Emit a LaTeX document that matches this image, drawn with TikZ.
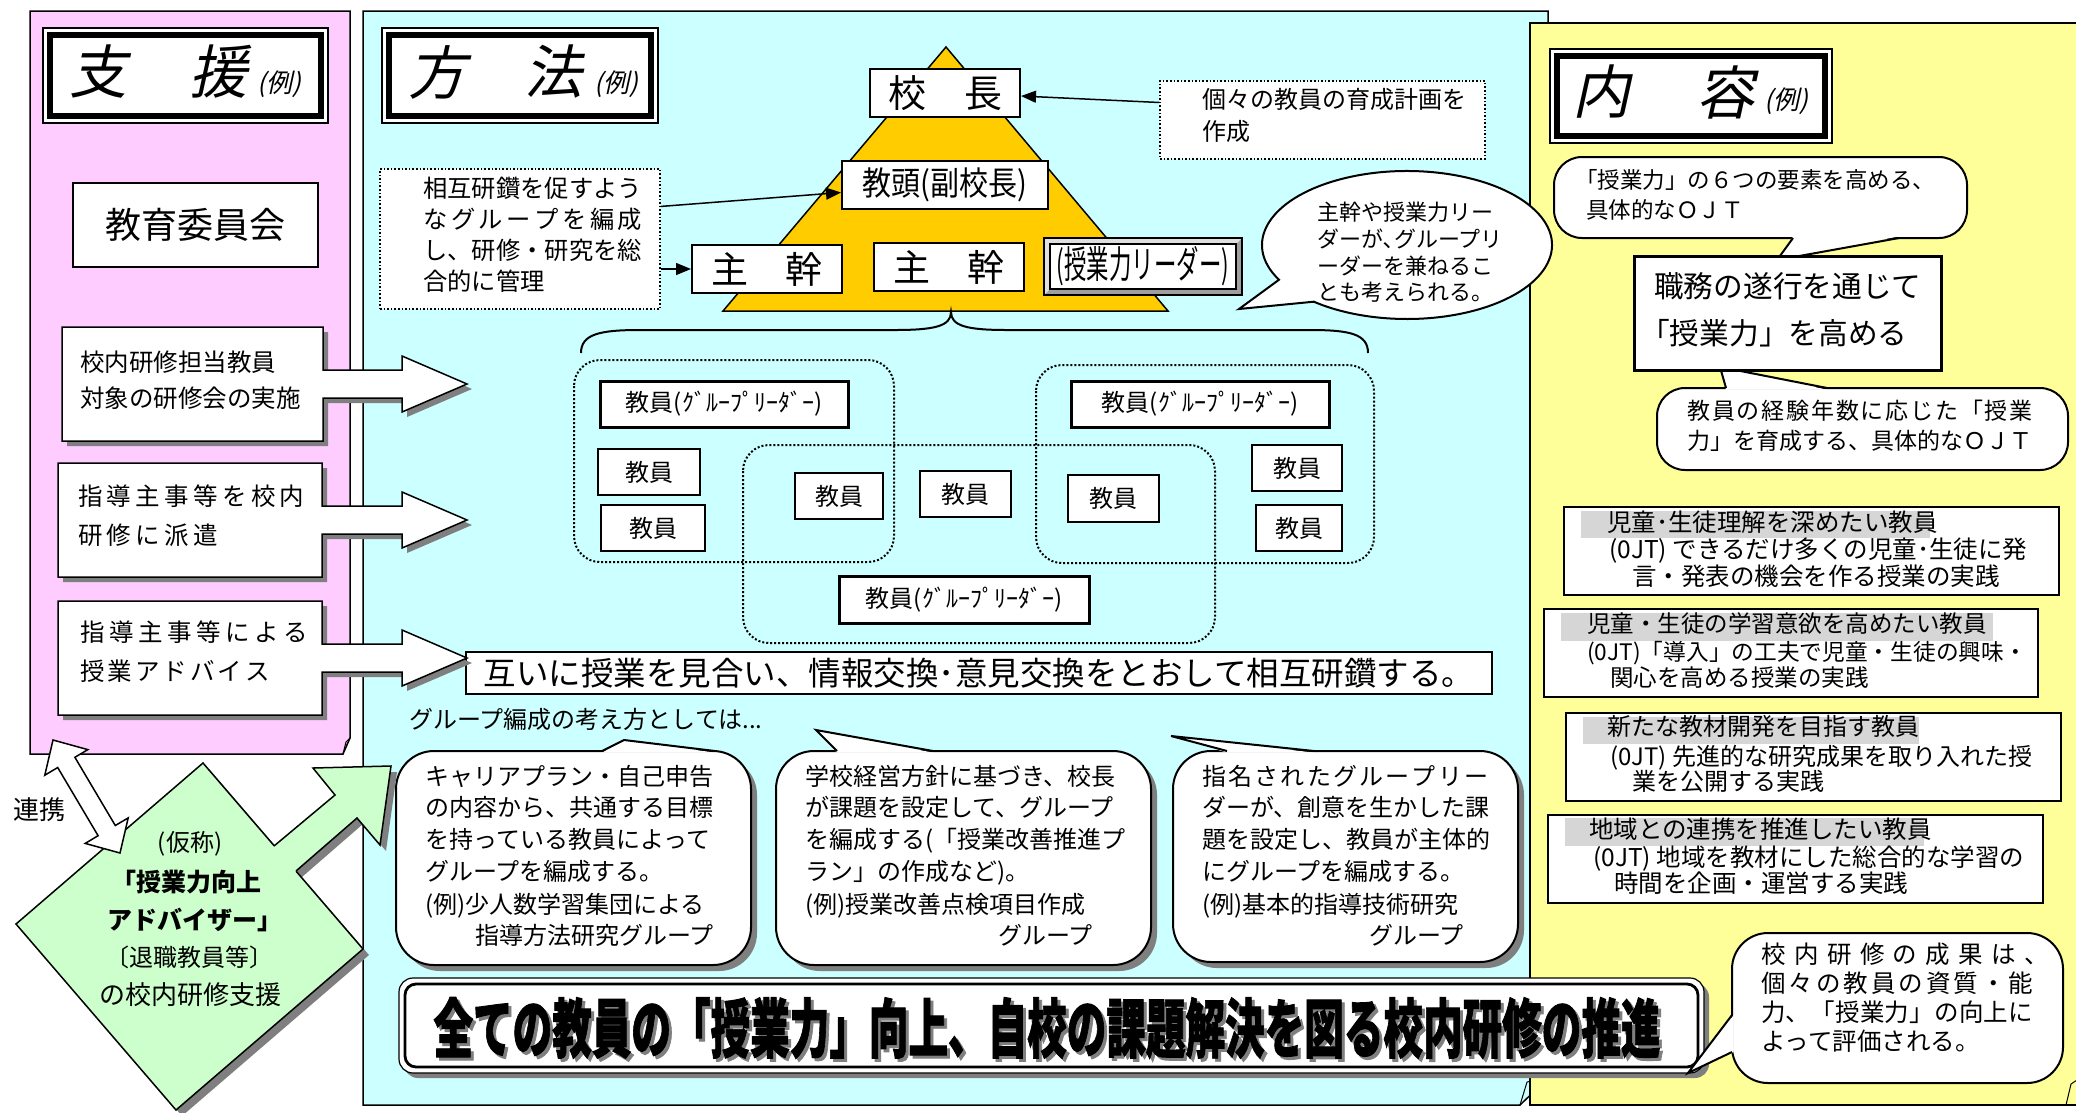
\documentclass[tikz,border=0pt]{standalone}
\usepackage{fontspec}
\usepackage{graphicx}
\setmainfont{Noto Sans CJK JP}
\newfontfamily\jpit{Noto Sans CJK JP}[FakeSlant=0.22]
\newfontfamily\jpheavy{Noto Sans CJK JP}[BoldFeatures={FakeBold=1.5}]
\usetikzlibrary{calc,arrows.meta}
\definecolor{pinkbg}{HTML}{FFCCFF}
\definecolor{bluebg}{HTML}{CCFFFF}
\definecolor{yelbg}{HTML}{FFFF99}
\definecolor{gold}{HTML}{FFCC00}
\definecolor{greenbg}{HTML}{CCFFCC}
\definecolor{hl}{HTML}{D6D6D6}
\definecolor{shadowc}{HTML}{7F7F7F}
\makeatletter
\newcommand\jline[2]{\makebox[#1][s]{\@tfor\jl@c:=#2\do{\jl@c\hfill}\unskip}}
\newcommand\sprd[2]{\@tfor\jl@c:=#2\do{\jl@c\hskip#1\relax}\unskip}
\makeatother
\newcommand\fs[1]{\fontsize{#1pt}{#1pt}\selectfont}
\newcommand\TL[4]{\node[anchor=base west, inner sep=0pt, font=#1] (#2) at (#3) {#4};}
\newcommand\tframe[4]{\draw[line width=1.2pt, fill=white] (#1,#2) rectangle (#3,#4);
  \draw[line width=6.5pt] ({#1+7},{#2+7}) rectangle ({#3-7},{#4-7});}
\newcommand\abox[5]{%
  \fill[shadowc, shift={(5,5)}] (#1,#2) -- (#3,#2) -- (#3,{#5-14}) -- (402,{#5-14}) -- (402,{#5-28}) -- (467,#5) -- (402,{#5+28}) -- (402,{#5+14}) -- (#3,{#5+14}) -- (#3,#4) -- (#1,#4) -- cycle;
  \draw[line width=1.5pt, fill=white] (#1,#2) -- (#3,#2) -- (#3,{#5-14}) -- (402,{#5-14}) -- (402,{#5-28}) -- (467,#5) -- (402,{#5+28}) -- (402,{#5+14}) -- (#3,{#5+14}) -- (#3,#4) -- (#1,#4) -- cycle;}
\newcommand\bubble[8]{%
  \fill[shadowc, rounded corners=38pt] ({#1+6},{#2+6}) rectangle ({#3+6},{#4+6});
  \draw[line width=2pt, fill=white, rounded corners=38pt] (#1,#2) rectangle (#3,#4);
  \fill[white] (#5,{#2+1.6}) -- (#7,#8) -- (#6,{#2+1.6}) -- cycle;
  \draw[line width=2pt] (#5,#2) -- (#7,#8) -- (#6,#2);}
\tikzset{
  pbox/.style={draw, line width=2pt, fill=white, inner sep=0pt},
  dotbox/.style={draw, line width=1.6pt, dotted, fill=white, inner sep=0pt},
  grp/.style={line width=2pt, dotted, rounded corners=26pt},
  glbox/.style={draw, line width=3pt, fill=white, inner sep=0pt, font=\fs{24}},
  tbox/.style={draw, line width=2pt, fill=white, inner sep=0pt, font=\fs{24}},
  rbox/.style={draw, line width=2.5pt, fill=white, inner sep=0pt},
  arr/.style={-{Triangle[length=15pt,width=12pt]}, line width=1.5pt},
  ctr/.style={anchor=base, inner sep=0pt}
}
\begin{document}
\begin{tikzpicture}[x=1pt,y=-1pt]
\useasboundingbox (0,0) rectangle (2076,1112);
\fill[white] (0,0) rectangle (2076,1112);

% ===== panels
\draw[line width=1.5pt, fill=pinkbg] (30,11) -- (350,11) -- (350,738) -- (343,754) -- (30,754) -- cycle;
\draw[line width=1pt] (343,754) -- (346,742) -- (350,738);
\draw[line width=1.5pt, fill=bluebg] (363,11) -- (1548,11) -- (1548,1078) -- (1520,1105) -- (363,1105) -- cycle;
\draw[line width=1pt] (1520,1105) -- (1527,1082) -- (1548,1078);
\draw[line width=1.5pt, fill=yelbg] (1530,23) -- (2090,23) -- (2090,1105) -- (1530,1105) -- cycle;
\draw[line width=1pt] (2066,1105) -- (2071,1084) -- (2080,1078);

% ===== left panel: support
\tframe{43}{28}{328}{123}
\node[font={\jpit\fs{58}}] (t1a) at (98,72) {支};
\node[font={\jpit\fs{58}}] (t1b) at (218,72) {援};
\node[font={\jpit\fs{26}}] (t1c) at (279,84) {(例)};
\node[pbox, minimum width=245pt, minimum height=84pt, font=\fs{36}] (kyoiku) at (195.5,225) {教育委員会};

% ===== blue panel: method
\tframe{382}{28}{658}{123}
\node[font={\jpit\fs{58}}] (t2a) at (437,72) {方};
\node[font={\jpit\fs{58}}] (t2b) at (553,72) {法};
\node[font={\jpit\fs{26}}] (t2c) at (616,84) {(例)};

\draw[line width=1.5pt, fill=gold] (723,311) -- (946,47) -- (1168,311) -- cycle;
\node[pbox, minimum width=150pt, minimum height=48pt, font=\fs{38}] (kocho) at (945,93) {校　長};
\node[pbox, minimum width=206pt, minimum height=48pt, font=\fs{33}] (kyoto) at (945,185) {\scalebox{0.88}[1]{教頭(副校長)}};
\node[pbox, minimum width=150pt, minimum height=48pt, font=\fs{37}] (shukan1) at (767,269) {主　幹};
\node[pbox, minimum width=150pt, minimum height=48pt, font=\fs{37}] (shukan2) at (949,267) {主　幹};
\fill[gray!75] (1044,238) rectangle (1242,295);
\fill[gray!25] (1044,238) -- (1242,238) -- (1236,244) -- (1050,244) -- (1050,289) -- (1044,295) -- cycle;
\draw[line width=1.5pt] (1044,238) rectangle (1242,295);
\node[draw, line width=1.5pt, fill=white, inner sep=0pt, minimum width=186pt, minimum height=45pt, font=\fs{38}] (leader) at (1143,266.5) {\scalebox{0.59}[1]{(授業力リーダー)}};

\node[dotbox, minimum width=280pt, minimum height=140pt] (sogo) at (520,239) {};
\TL{\fs{24.3}}{sg1}{423,197}{相互研鑽を促すよう}
\TL{\fs{24.3}}{sg2}{423,228}{\jline{219pt}{なグループを編成}}
\TL{\fs{24.3}}{sg3}{423,259}{し、研修・研究を総}
\TL{\fs{24.3}}{sg4}{423,290}{合的に管理}
\node[dotbox, minimum width=325pt, minimum height=78pt] (koko) at (1322.5,120) {};
\TL{\fs{24}}{kk1}{1202,108}{個々の教員の育成計画を}
\TL{\fs{24}}{kk2}{1202,140}{作成}
\draw[arr] ($(sogo.north east)!0.27!(sogo.south east)$) -- ($(kyoto.north west)!0.65!(kyoto.south west)$);
\draw[arr] (sogo.east |- shukan1.west) -- (shukan1.west);
\draw[arr] ($(koko.north west)!0.28!(koko.south west)$) -- ($(kocho.north east)!0.56!(kocho.south east)$);

% ellipse callout
\draw[line width=2pt, fill=white] ($(1407,245)+(130:145 and 74)$) -- (1239,309) -- ($(1407,245)+(152:145 and 74)$) arc[start angle=152, end angle=490, x radius=145, y radius=74] -- cycle;
\TL{\fs{22}}{el1}{1317,220}{主幹や授業力リー}
\TL{\fs{22}}{el2}{1317,247}{ダーが､グループリ}
\TL{\fs{22}}{el3}{1317,274}{ーダーを兼ねるこ}
\TL{\fs{22}}{el4}{1317,300}{とも考えられる。}

% brace
\draw[line width=2pt] (581,353) .. controls (581,334) and (600,330) .. (640,330) -- (895,330) .. controls (935,330) and (951,326) .. (951,312) .. controls (951,326) and (967,330) .. (1007,330) -- (1310,330) .. controls (1350,330) and (1368,334) .. (1368,353);

% groups
\draw[grp] (574,360) rectangle (894,562);
\draw[grp] (1036,365) rectangle (1374,563);
\draw[grp] (743,445) rectangle (1215,643);
\node[glbox, minimum width=248pt, minimum height=46pt] (gl1) at (724,404) {教員(ｸﾞﾙｰﾌﾟﾘｰﾀﾞｰ)};
\node[glbox, minimum width=258pt, minimum height=46pt] (gl2) at (1200,404) {教員(ｸﾞﾙｰﾌﾟﾘｰﾀﾞｰ)};
\node[glbox, minimum width=250pt, minimum height=47pt] (gl3) at (964,599.5) {教員(ｸﾞﾙｰﾌﾟﾘｰﾀﾞｰ)};
\node[tbox, minimum width=102pt, minimum height=46pt] (te1) at (649,472) {教員};
\node[tbox, minimum width=104pt, minimum height=46pt] (te2) at (653,528) {教員};
\node[tbox, minimum width=88pt, minimum height=46pt] (te3) at (839,496) {教員};
\node[tbox, minimum width=91pt, minimum height=46pt] (te4) at (965.5,494) {教員};
\node[tbox, minimum width=91pt, minimum height=47pt] (te5) at (1113.5,498.5) {教員};
\node[tbox, minimum width=90pt, minimum height=46pt] (te6) at (1297,468) {教員};
\node[tbox, minimum width=86pt, minimum height=46pt] (te7) at (1299,528) {教員};

\node[draw, line width=2.5pt, fill=white, inner sep=0pt, minimum width=1026pt, minimum height=42pt, font=\fs{32.5}] (goi) at (979,673) {互いに授業を見合い、情報交換･意見交換をとおして相互研鑽する。};
\TL{\fs{24}}{gtxt}{409,728}{グループ編成の考え方としては...}

% bubbles
\bubble{396}{751}{751}{965}{602}{715}{624}{740}
\bubble{776}{751}{1151}{965}{837}{933}{816}{730}
\bubble{1173}{751}{1518}{962}{1227}{1314}{1171}{736}
\TL{\fs{24}}{ba1}{425,785}{キャリアプラン・自己申告}
\TL{\fs{24}}{ba2}{425,816}{の内容から、共通する目標}
\TL{\fs{24}}{ba3}{425,848}{を持っている教員によって}
\TL{\fs{24}}{ba4}{425,880}{グループを編成する。}
\TL{\fs{24}}{ba5}{425,913}{(例)少人数学習集団による}
\TL{\fs{24}}{ba6}{475,944}{指導方法研究グループ}
\TL{\fs{24}}{bb1}{805,785}{学校経営方針に基づき、校長}
\TL{\fs{24}}{bb2}{805,816}{が課題を設定して、グループ}
\TL{\fs{24}}{bb3}{805,848}{を編成する(「授業改善推進プ}
\TL{\fs{24}}{bb4}{805,880}{ラン」の作成など)。}
\TL{\fs{24}}{bb5}{805,913}{(例)授業改善点検項目作成}
\TL{\fs{24}}{bb6}{998,944}{グループ}
\TL{\fs{24}}{bc1}{1202,785}{\jline{286pt}{指名されたグループリー}}
\TL{\fs{24}}{bc2}{1202,816}{ダーが、創意を生かした課}
\TL{\fs{24}}{bc3}{1202,848}{題を設定し、教員が主体的}
\TL{\fs{24}}{bc4}{1202,880}{にグループを編成する。}
\TL{\fs{24}}{bc5}{1202,913}{(例)基本的指導技術研究}
\TL{\fs{24}}{bc6}{1369,944}{グループ}

% banner
\fill[shadowc, rounded corners=14pt] (404,983) rectangle (1709,1078);
\draw[line width=1.2pt, fill=white, rounded corners=14pt] (399,978) rectangle (1704,1073);
\draw[line width=2.8pt, rounded corners=11pt] (405,984) rectangle (1698,1067);
\node[inner sep=0pt, text=shadowc] (bannersh) at (1050,1031) {\resizebox*{1227pt}{62pt}{\jpheavy\bfseries 全ての教員の「授業力」向上、自校の課題解決を図る校内研修の推進}};
\node[inner sep=0pt] (banner) at (1047,1028) {\resizebox*{1227pt}{62pt}{\jpheavy\bfseries 全ての教員の「授業力」向上、自校の課題解決を図る校内研修の推進}};

% left arrow boxes
\abox{62}{327}{323}{441}{384}
\abox{58}{463}{322}{577}{520}
\abox{58}{601}{322}{715}{658}
\TL{\fs{24.5}}{la1}{80,371}{校内研修担当教員}
\TL{\fs{24.5}}{la2}{80,407}{対象の研修会の実施}
\TL{\fs{24.5}}{lb1}{78,505}{\sprd{4.3pt}{指導主事等を校内}}
\TL{\fs{24.5}}{lb2}{78,544}{\sprd{4.3pt}{研修に派遣}}
\TL{\fs{24.5}}{lc1}{80,641}{\sprd{4.6pt}{指導主事等による}}
\TL{\fs{24.5}}{lc2}{80,680}{\sprd{3pt}{授業アドバイス}}

% diamond + arrows
\fill[shadowc] (209,769) -- (369,955) -- (182,1116) -- (22,930) -- cycle;
\fill[shadowc, shift={(6,6)}] (274,846) -- (335,795) -- (313,768) -- (391,766) -- (380,845) -- (357,818) -- (296,871) -- cycle;
\draw[line width=1.5pt, fill=greenbg] (203,763) -- (363,949) -- (176,1110) -- (16,924) -- cycle;
\fill[greenbg] (271,849) -- (274,846) -- (335,795) -- (313,768) -- (391,766) -- (380,845) -- (357,818) -- (296,871) -- (293,874) -- cycle;
\draw[line width=1.5pt] (274,846) -- (335,795) -- (313,768) -- (391,766) -- (380,845) -- (357,818) -- (296,871);
\draw[line width=1.5pt, fill=white] (53,740) -- (87.8,749.6) -- (74.9,757.3) -- (115.3,825.5) -- (128.2,817.9) -- (120,853) -- (85.2,843.4) -- (98.1,835.7) -- (57.7,767.5) -- (44.8,775.2) -- cycle;
\TL{\fs{26}}{renkei}{13,819}{連携}
\node[ctr, font=\fs{24}] (dm1) at (190,851) {(仮称)};
\node[ctr, font=\fs{25}\bfseries] (dm2) at (186,891) {「授業力向上};
\node[ctr, font=\fs{25}\bfseries] (dm3) at (195,929) {アドバイザー」};
\node[ctr, font=\fs{24}] (dm4) at (189.5,966) {〔退職教員等〕};
\node[ctr, font=\fs{26}] (dm5) at (190,1004) {の校内研修支援};

% ===== yellow panel: content
\tframe{1550}{49}{1832}{143}
\node[font={\jpit\fs{58}}] (t3a) at (1601,92) {内};
\node[font={\jpit\fs{58}}] (t3b) at (1725,92) {容};
\node[font={\jpit\fs{26}}] (t3c) at (1786,101) {(例)};

\draw[line width=2pt, fill=white, rounded corners=28pt] (1554,157) rectangle (1967,238);
\fill[white] (1793,236.4) -- (1777,260) -- (1899,236.4) -- cycle;
\draw[line width=2pt] (1793,238) -- (1777,260) -- (1899,238);
\TL{\fs{22.5}}{c1a}{1575,188}{「授業力」の６つの要素を高める、}
\TL{\fs{22.5}}{c1b}{1586,218}{具体的なＯＪＴ}

\draw[line width=2pt, fill=white, rounded corners=28pt] (1657,388) rectangle (2068,470);
\fill[white] (1726,389.6) -- (1720,367) -- (1827,389.6) -- cycle;
\draw[line width=2pt] (1726,388) -- (1720,367) -- (1827,388);
\TL{\fs{23}}{c2a}{1687,419}{\sprd{1.8pt}{教員の経験年数に応じた「授業}}
\TL{\fs{23}}{c2b}{1687,449}{力」を育成する、具体的なＯＪＴ}

\node[draw, line width=3pt, fill=white, inner sep=0pt, minimum width=307pt, minimum height=114pt] (shokumu) at (1787.5,313) {};
\TL{\fs{29.7}}{sm1}{1654,297}{職務の遂行を通じて}
\TL{\fs{29.7}}{sm2}{1640,344}{「授業力」を高める}

\node[rbox, minimum width=495pt, minimum height=88pt] (r1) at (1811.5,551) {};
\fill[hl] (1581,511) rectangle (1930,538);
\TL{\fs{24.5}}{r1a}{1607,531}{児童･生徒理解を深めたい教員}
\TL{\fs{24.5}}{r1b}{1609,558}{(0JT) できるだけ多くの児童･生徒に発}
\TL{\fs{24.5}}{r1c}{1632,585}{言・発表の機会を作る授業の実践}

\node[rbox, minimum width=494pt, minimum height=88pt] (r2) at (1791,653) {};
\fill[hl] (1561,613) rectangle (1993,641);
\TL{\fs{23.5}}{r2a}{1587,632}{児童・生徒の学習意欲を高めたい教員}
\TL{\fs{22.7}}{r2b}{1587,660}{(0JT)「導入」の工夫で児童・生徒の興味・}
\TL{\fs{23.5}}{r2c}{1610,686}{関心を高める授業の実践}

\node[rbox, minimum width=495pt, minimum height=88pt] (r3) at (1813.5,757) {};
\fill[hl] (1583,717) rectangle (1919,744);
\TL{\fs{24}}{r3a}{1607,735}{新たな教材開発を目指す教員}
\TL{\fs{24}}{r3b}{1610,765}{(0JT) 先進的な研究成果を取り入れた授}
\TL{\fs{24}}{r3c}{1632,790}{業を公開する実践}

\node[rbox, minimum width=495pt, minimum height=88pt] (r4) at (1795.5,859) {};
\fill[hl] (1565,818) rectangle (1924,846);
\TL{\fs{24.5}}{r4a}{1589,838}{地域との連携を推進したい教員}
\TL{\fs{24.5}}{r4b}{1593,866}{(0JT) 地域を教材にした総合的な学習の}
\TL{\fs{24.5}}{r4c}{1614,892}{時間を企画・運営する実践}

\draw[line width=2pt, fill=white, rounded corners=36pt] (1732,933) rectangle (2063,1083);
\fill[white] (1733.6,1015) -- (1688,1073) -- (1733.6,1052) -- cycle;
\draw[line width=2pt] (1732,1015) -- (1688,1073) -- (1732,1052);
\TL{\fs{24.5}}{c3a}{1761,963}{\jline{288pt}{校内研修の成果は、}}
\TL{\fs{24.5}}{c3b}{1761,992}{\jline{272pt}{個々の教員の資質・能}}
\TL{\fs{24.5}}{c3c}{1761,1021}{\jline{272pt}{力、「授業力」の向上に}}
\TL{\fs{24.5}}{c3d}{1761,1050}{よって評価される。}
\end{tikzpicture}
\end{document}
